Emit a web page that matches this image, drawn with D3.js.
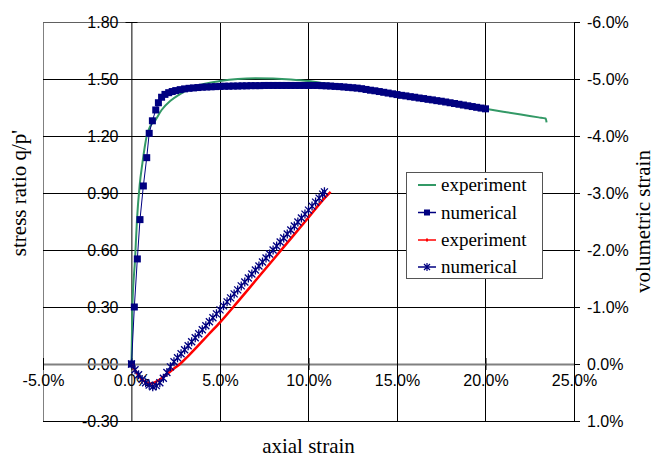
<!DOCTYPE html>
<html lang="en">
<head>
<meta charset="UTF-8">
<title>Stress ratio and volumetric strain</title>
<script src="https://cdn.jsdelivr.net/npm/d3@7"></script>
<style>
  body { margin: 0; background: #fff; }
</style>
</head>
<body>
<svg id="chart"></svg>
<script>
// tick values
const xTicks = [-5, 0, 5, 10, 15, 20, 25];
const qTicks = [-0.3, 0, 0.3, 0.6, 0.9, 1.2, 1.5, 1.8];
const volTicks = [-6, -5, -4, -3, -2, -1, 0, 1];

// stress ratio, experiment (axial strain %, q/p')
const expStrain = [0, 0.05, 0.2, 0.31, 0.46, 0.62, 0.86, 1.05, 1.33, 1.7, 2.2, 2.74, 3.3, 4.0, 5.0, 6.0, 7.0, 8.0, 9.0, 10.0, 11.0, 12.0, 13.0, 14.0, 15.0, 16.0, 17.0, 18.0, 19.0, 20.0, 21.0, 22.0, 23.0, 23.4, 23.45];
const expQ = [0, 0.30, 0.55, 0.76, 0.94, 1.06, 1.20, 1.25, 1.28, 1.337, 1.385, 1.42, 1.45, 1.472, 1.489, 1.50, 1.504, 1.502, 1.497, 1.489, 1.476, 1.462, 1.448, 1.433, 1.418, 1.403, 1.389, 1.374, 1.358, 1.343, 1.328, 1.313, 1.298, 1.292, 1.272];

// stress ratio, numerical
const numStrain = [0, 0.16, 0.33, 0.48, 0.67, 0.86, 1.0, 1.18, 1.37, 1.52, 1.70, 1.89, 2.1, 2.3, 2.5, 2.75, 3.0, 3.25, 3.5, 3.75, 4.0, 4.25, 4.5, 4.75, 5.0, 5.25, 5.5, 5.75, 6.0, 6.25, 6.5, 6.75, 7.0, 7.25, 7.5, 7.75, 8.0, 8.25, 8.5, 8.75, 9.0, 9.25, 9.5, 9.75, 10.0, 10.25, 10.5, 10.75, 11.0, 11.25, 11.5, 11.75, 12.0, 12.25, 12.5, 12.75, 13.0, 13.25, 13.5, 13.75, 14.0, 14.25, 14.5, 14.75, 15.0, 15.25, 15.5, 15.75, 16.0, 16.25, 16.5, 16.75, 17.0, 17.25, 17.5, 17.75, 18.0, 18.25, 18.5, 18.75, 19.0, 19.25, 19.5, 19.75, 20.0];
const numQ = [0, 0.30, 0.553, 0.76, 0.937, 1.086, 1.214, 1.28, 1.337, 1.375, 1.404, 1.419, 1.428, 1.434, 1.439, 1.444, 1.448, 1.451, 1.453, 1.455, 1.457, 1.458, 1.459, 1.460, 1.461, 1.462, 1.462, 1.463, 1.463, 1.464, 1.464, 1.465, 1.465, 1.465, 1.466, 1.466, 1.466, 1.466, 1.466, 1.466, 1.466, 1.466, 1.466, 1.466, 1.466, 1.466, 1.466, 1.465, 1.464, 1.463, 1.461, 1.460, 1.458, 1.456, 1.454, 1.452, 1.449, 1.445, 1.441, 1.438, 1.434, 1.430, 1.426, 1.422, 1.418, 1.414, 1.411, 1.407, 1.404, 1.400, 1.397, 1.393, 1.390, 1.386, 1.383, 1.379, 1.375, 1.371, 1.367, 1.363, 1.359, 1.355, 1.351, 1.347, 1.343];

// volumetric strain, experiment (%)
const expVolStrain = [0, 0.2, 0.4, 0.6, 0.8, 0.95, 1.15, 1.4, 1.7, 2.0, 2.4, 2.74, 3.2, 3.7, 4.3, 5.0, 6.0, 7.0, 8.0, 9.0, 10.0, 11.0, 11.25];
const expVol = [0, 0.11, 0.20, 0.27, 0.32, 0.34, 0.34, 0.31, 0.25, 0.18, 0.08, 0, -0.14, -0.30, -0.50, -0.73, -1.09, -1.46, -1.83, -2.20, -2.57, -2.94, -3.02];

// volumetric strain, numerical (%)
const numVolStrain = [0, 0.2, 0.4, 0.6, 0.8, 1.0, 1.2, 1.4, 1.6, 1.8, 2.0, 2.2, 2.4, 2.6, 2.8, 3.0, 3.2, 3.4, 3.6, 3.8, 4.0, 4.2, 4.4, 4.6, 4.8, 5.0, 5.2, 5.4, 5.6, 5.8, 6.0, 6.2, 6.4, 6.6, 6.8, 7.0, 7.2, 7.4, 7.6, 7.8, 8.0, 8.2, 8.4, 8.6, 8.8, 9.0, 9.2, 9.4, 9.6, 9.8, 10.0, 10.2, 10.4, 10.6, 10.8, 10.9];
const numVol = [0, 0.10, 0.19, 0.27, 0.33, 0.37, 0.40, 0.38, 0.33, 0.25, 0.15, 0.05, -0.04, -0.11, -0.18, -0.25, -0.32, -0.39, -0.46, -0.53, -0.60, -0.67, -0.74, -0.81, -0.88, -0.95, -1.02, -1.09, -1.16, -1.23, -1.30, -1.37, -1.44, -1.51, -1.58, -1.65, -1.72, -1.79, -1.86, -1.93, -2.00, -2.07, -2.14, -2.21, -2.28, -2.35, -2.42, -2.49, -2.56, -2.63, -2.70, -2.77, -2.84, -2.91, -2.98, -3.02];

const legendLabels = ['experiment', 'numerical', 'experiment', 'numerical'];

const W = 662, H = 458;
const SANS = 'Liberation Sans, Arial, sans-serif';
const SERIF = 'Liberation Serif, Times New Roman, serif';
const svg = d3.select('#chart').attr('width', W).attr('height', H);

const x = d3.scaleLinear().domain([-5, 25]).range([43, 574]);
const yQ = d3.scaleLinear().domain([-0.3, 1.8]).range([421, 22]);
const yV = d3.scaleLinear().domain([1, -6]).range([421, 22]);

const green = '#339966', navy = '#000080', red = '#ff0000';

// grid
const grid = svg.append('g');
grid.selectAll('.vg').data(xTicks).enter().append('line')
    .attr('x1', d => x(d)).attr('x2', d => x(d))
    .attr('y1', yQ(1.8)).attr('y2', yQ(-0.3))
    .attr('stroke', d => d === -5 ? '#808080' : '#000').attr('stroke-width', 1)
    .attr('shape-rendering', 'crispEdges');
grid.selectAll('.hg').data(qTicks).enter().append('line')
    .attr('x1', x(-5)).attr('x2', x(25))
    .attr('y1', d => yQ(d)).attr('y2', d => yQ(d))
    .attr('stroke', d => d === 1.8 ? '#606060' : '#000').attr('stroke-width', 1)
    .attr('shape-rendering', 'crispEdges');

// axes
const fmtQ = d => d.toFixed(2);
const fmtPct = d => d.toFixed(1) + '%';

function styleTicks(g) {
  g.attr('font-family', SANS).attr('font-size', 16);
  g.selectAll('.tick text').attr('fill', '#000');
}

const axQ = svg.append('g')
    .attr('transform', `translate(${x(0)},0)`)
    .call(d3.axisLeft(yQ).tickValues(qTicks).tickFormat(fmtQ).tickSizeInner(6).tickSizeOuter(0).tickPadding(7));
axQ.selectAll('.tick line').attr('x1', 6).attr('stroke', '#000');
axQ.select('.domain').attr('stroke', '#808080').attr('stroke-width', 1.5);
styleTicks(axQ);

const axX = svg.append('g')
    .attr('transform', `translate(0,${yQ(0)})`)
    .call(d3.axisBottom(x).tickValues(xTicks).tickFormat(fmtPct).tickSizeInner(6).tickSizeOuter(0).tickPadding(5));
axX.selectAll('.tick line').attr('y1', -6).attr('stroke', '#000');
axX.select('.domain').attr('stroke', '#808080').attr('stroke-width', 2);
styleTicks(axX);

const axV = svg.append('g')
    .attr('transform', `translate(${x(25)},0)`)
    .call(d3.axisRight(yV).tickValues(volTicks).tickFormat(fmtPct).tickSizeInner(6).tickSizeOuter(0).tickPadding(7));
axV.selectAll('.tick line').attr('stroke', '#000');
axV.select('.domain').attr('stroke', '#000');
styleTicks(axV);

// axis titles
function title(sel) {
  return sel.attr('font-family', SERIF).attr('font-size', 21).attr('fill', '#000').attr('text-anchor', 'middle');
}
svg.append('text').call(title)
    .attr('transform', `translate(26,${yQ(0.9)}) rotate(-90)`)
    .text("stress ratio q/p'");
svg.append('text').call(title)
    .attr('transform', `translate(650,${yV(-2.5)}) rotate(-90)`)
    .text('volumetric strain');
svg.append('text').call(title)
    .attr('x', x(10)).attr('y', 453)
    .text('axial strain');

// series
const expPts = expStrain.map((s, i) => [s, expQ[i]]);
const numPts = numStrain.map((s, i) => [s, numQ[i]]);
const expVolPts = expVolStrain.map((s, i) => [s, expVol[i]]);
const numVolPts = numVolStrain.map((s, i) => [s, numVol[i]]);

const lineQ = d3.line().x(d => x(d[0])).y(d => yQ(d[1]));
const lineV = d3.line().x(d => x(d[0])).y(d => yV(d[1]));

svg.append('path').datum(expPts)
    .attr('d', lineQ.curve(d3.curveMonotoneX))
    .attr('fill', 'none').attr('stroke', green).attr('stroke-width', 2);

svg.append('path').datum(numPts)
    .attr('d', d3.line().x(d => x(d[0])).y(d => yQ(d[1])))
    .attr('fill', 'none').attr('stroke', navy).attr('stroke-width', 1);
svg.append('g').selectAll('rect').data(numPts).enter().append('rect')
    .attr('x', d => x(d[0]) - 3.5).attr('y', d => yQ(d[1]) - 3.5)
    .attr('width', 7).attr('height', 7).attr('fill', navy);

svg.append('path').datum(expVolPts)
    .attr('d', lineV.curve(d3.curveMonotoneX))
    .attr('fill', 'none').attr('stroke', red).attr('stroke-width', 2.5);

const starPath = 'M-3.5,-3.5L3.5,3.5M-3.5,3.5L3.5,-3.5M0,-4.5V4.5';
svg.append('path').datum(numVolPts)
    .attr('d', d3.line().x(d => x(d[0])).y(d => yV(d[1])))
    .attr('fill', 'none').attr('stroke', navy).attr('stroke-width', 1);
svg.append('g').selectAll('path').data(numVolPts).enter().append('path')
    .attr('transform', d => `translate(${x(d[0])},${yV(d[1])})`)
    .attr('d', starPath).attr('fill', 'none').attr('stroke', navy).attr('stroke-width', 1.3);

// legend
const lg = svg.append('g');
lg.append('rect').attr('x', 406.5).attr('y', 172.5).attr('width', 136).attr('height', 106)
    .attr('fill', '#fff').attr('stroke', '#555');
const rowY = [185, 212.5, 240, 267];
legendLabels.forEach((t, i) => {
  const yy = rowY[i];
  const col = i === 0 ? green : i === 2 ? red : navy;
  lg.append('line').attr('x1', 418).attr('x2', 436).attr('y1', yy).attr('y2', yy)
      .attr('stroke', col).attr('stroke-width', i === 0 ? 2 : 1.5);
  if (i === 1) lg.append('rect').attr('x', 424).attr('y', yy - 3).attr('width', 6).attr('height', 6).attr('fill', navy);
  if (i === 2) lg.append('rect').attr('x', 426).attr('y', yy - 1.5).attr('width', 2).attr('height', 3).attr('fill', red);
  if (i === 3) lg.append('path').attr('transform', `translate(427,${yy})`).attr('d', 'M-3,-3L3,3M-3,3L3,-3M0,-4V4')
      .attr('fill', 'none').attr('stroke', navy).attr('stroke-width', 1.2);
  lg.append('text').attr('x', 441).attr('y', yy).attr('dy', '0.33em')
      .attr('font-family', SERIF).attr('font-size', 19).attr('fill', '#000').text(t);
});
</script>
</body>
</html>
